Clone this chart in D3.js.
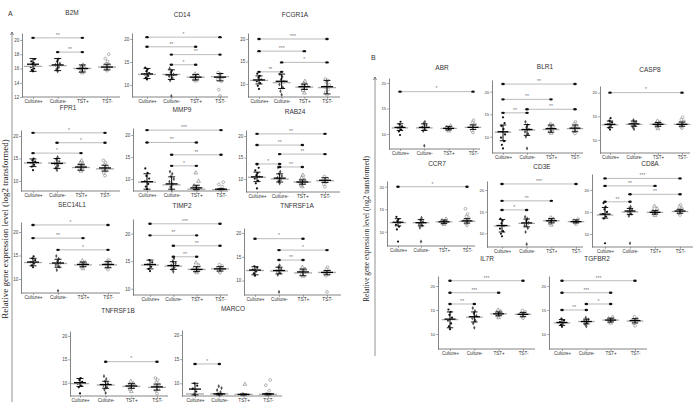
<!DOCTYPE html>
<html><head><meta charset="utf-8">
<script src="https://cdn.jsdelivr.net/npm/d3@7"></script>
<style>body{margin:0;background:#fff} svg{display:block}</style>
</head><body>
<svg id="c" width="700" height="406"></svg>
<script>
// ---------------- DATA ----------------
const groups = ["Culture+","Culture-","TST+","TST-"];
const genes = ["B2M","CD14","FCGR1A","FPR1","MMP9","RAB24","SEC14L1","TIMP2","TNFRSF1A","TNFRSF1B","MARCO",
               "ABR","BLR1","CASP8","CCR7","CD3E","CD8A","IL7R","TGFBR2"];
const yTicks = [[12,14,16,18,20],[10,15,20],[10,15,20],[10,15,20],[10,15,20],[10,15,20],[10,15,20],[10,15,20],[10,15,20],[10,15,20],[10,15,20],
                [10,15,20],[10,15,20],[10,15,20],[10,15,20],[10,15,20],[10,15,20],[10,15,20],[10,15,20]];
const means = [
 [16.6,16.5,16.0,16.2],[12.4,12.2,11.7,11.7],[10.9,10.6,9.4,9.4],[14.1,13.9,13.1,12.9],[9.4,8.9,8.0,7.7],
 [10.5,10.2,9.3,9.7],[13.6,13.4,13.1,13.1],[14.4,14.2,13.5,13.6],[12.2,12.1,11.8,11.7],[10.0,9.6,9.3,9.1],
 [8.8,7.8,7.7,7.8],[11.3,11.3,11.1,11.3],[11.1,11.6,11.8,11.9],[13.3,13.4,13.3,13.3],[12.1,12.0,12.2,12.4],
 [11.8,12.4,12.9,12.7],[14.5,15.2,14.9,15.2],[13.1,13.6,14.2,14.1],[12.4,12.6,12.9,12.8]];
const medians = [
 [16.3,16.4,16.0,16.2],[12.3,12.3,11.7,11.8],[10.8,10.3,9.3,9.2],[14.0,14.0,13.0,12.7],[9.3,8.7,7.7,7.6],
 [10.4,10.0,9.3,9.6],[13.5,13.3,13.0,13.0],[14.3,14.1,13.5,13.6],[12.1,12.0,11.6,11.7],[9.8,9.5,9.2,9.0],
 [7.8,7.8,7.7,7.7],[11.2,11.2,11.1,11.3],[11.0,11.5,11.6,11.8],[13.2,13.3,13.3,13.3],[12.0,12.0,12.2,12.3],
 [11.7,12.3,12.9,12.7],[14.3,15.0,14.9,15.1],[13.0,13.5,14.2,14.1],[12.3,12.6,12.9,12.7]];
const barLow = [
 [15.6,15.7,15.5,15.8],[11.4,11.2,11.1,10.9],[10.0,9.0,8.8,7.8],[13.2,12.8,12.4,12.2],[7.7,7.7,7.6,7.6],
 [9.4,9.3,8.8,9.2],[12.8,12.5,12.6,12.4],[13.6,13.5,13.1,13.2],[11.2,11.4,11.0,11.2],[9.2,8.8,8.8,8.4],
 [7.6,7.6,7.6,7.6],[10.7,10.7,10.8,10.9],[9.1,10.3,11.0,11.1],[12.6,12.9,12.9,12.9],[11.3,11.3,11.8,11.9],
 [10.3,11.5,12.4,12.4],[13.6,14.4,14.5,14.7],[11.3,12.5,13.8,13.6],[11.8,12.1,12.5,12.3]];
const barHigh = [
 [17.4,17.4,16.5,16.6],[13.6,13.3,12.3,12.5],[11.8,12.2,10.0,10.8],[14.9,15.0,13.7,13.5],[11.2,10.5,8.6,7.8],
 [11.6,11.2,9.8,10.3],[14.4,14.2,13.6,13.7],[15.2,14.9,14.0,14.0],[12.9,12.8,12.4,12.1],[10.9,10.3,9.8,9.7],
 [10.0,7.9,7.8,7.9],[12.0,12.0,11.5,11.8],[12.6,12.7,12.6,12.6],[14.0,14.0,13.7,13.8],[12.9,12.7,12.6,12.9],
 [13.2,13.3,13.4,13.1],[16.0,15.8,15.3,15.6],[14.6,14.6,14.6,14.5],[13.0,13.1,13.3,13.2]];
const points = [
 [[15.6,15.8,16.0,16.2,16.4,16.6,16.8,17.0,17.3],[15.6,15.9,16.2,16.5,16.7,17.0,17.3],[15.4,15.6,15.8,16.0,16.1,16.3,16.5],[15.7,15.9,16.1,16.3,16.5,16.7,17.0,17.4,18.0]],
 [[11.2,11.6,12.0,12.3,12.6,13.0,13.4,13.8],[7.6,11.0,11.5,11.9,12.3,12.7,13.1,13.6],[10.9,11.2,11.5,11.8,12.1,12.4],[7.6,9.0,10.8,11.2,11.6,12.0,12.4,12.7]],
 [[8.9,9.6,10.2,10.6,11.0,11.4,11.8,12.3],[7.6,8.4,9.2,9.9,10.5,11.0,11.6,12.2],[8.0,8.6,9.0,9.4,9.7,10.1,10.6],[7.6,8.2,8.8,9.3,9.8,10.4,10.8,11.1]],
 [[12.4,13.2,13.6,14.0,14.3,14.6,15.0],[12.4,12.9,13.4,13.9,14.3,14.8,15.3],[12.2,12.6,13.0,13.3,13.7,14.1,14.5],[11.2,11.8,12.3,12.7,13.1,13.6,14.1,14.6]],
 [[7.7,8.3,8.9,9.5,10.1,10.7,11.4,12.4],[7.6,8.2,8.8,9.4,10.0,10.6,11.2,11.7],[7.6,7.8,8.1,8.5,9.5,11.4],[7.6,7.7,8.3,8.8,9.3]],
 [[7.8,9.0,9.6,10.1,10.5,10.9,11.4,12.0,12.6,13.4],[9.0,9.5,9.9,10.3,10.7,11.2,11.7,12.7],[8.2,8.6,9.0,9.4,9.8,10.3,10.9],[8.2,8.8,9.3,9.7,10.1,10.6]],
 [[12.5,12.9,13.3,13.6,14.0,14.4,14.8],[7.5,11.9,12.6,13.0,13.4,13.8,14.3,14.9],[12.2,12.6,12.9,13.2,13.5,13.9],[12.0,12.4,12.8,13.1,13.4,13.8,14.1]],
 [[13.2,13.6,14.0,14.4,14.8,15.2],[13.1,13.5,13.9,14.2,14.6,15.0,15.5],[12.9,13.2,13.5,13.8,14.2,14.7],[12.9,13.2,13.5,13.8,14.1,14.4]],
 [[11.0,11.5,11.9,12.3,12.7,13.0],[7.6,11.2,11.6,12.0,12.4,12.8,13.2],[10.9,11.3,11.7,12.0,12.4,12.8],[7.6,11.0,11.4,11.7,12.0,12.4,12.8]],
 [[7.7,9.0,9.4,9.8,10.2,10.6,11.0],[7.8,8.5,9.0,9.4,9.8,10.3,10.8,11.4],[8.1,8.6,9.0,9.4,9.8,10.3],[7.7,8.3,8.8,9.2,9.6,10.1,10.6,11.0]],
 [[7.6,7.8,8.3,8.9,9.5,10.0],[7.6,7.8,8.2,8.6,9.0,9.4],[7.6,7.7,9.8],[7.6,7.8,8.5,9.6,10.7]],
 [[9.8,10.5,10.9,11.2,11.5,11.9,12.4],[7.7,10.6,11.0,11.3,11.7,12.1,12.4],[10.6,10.9,11.1,11.3,11.6],[10.3,10.7,11.1,11.5,11.9,12.3,12.7]],
 [[7.4,8.2,9.0,9.8,10.5,11.1,11.7,12.4,13.0,14.3],[7.4,10.0,10.6,11.1,11.6,12.1,12.6,13.3],[10.8,11.2,11.6,12.0,12.4,12.8],[10.7,11.2,11.6,12.0,12.4,12.9,13.3]],
 [[12.2,12.6,13.0,13.3,13.7,14.1,14.6],[12.3,12.7,13.1,13.4,13.8,14.2],[12.4,12.8,13.1,13.4,13.7,14.0],[12.5,12.8,13.2,13.5,13.9,14.3,14.8]],
 [[7.8,10.5,11.1,11.6,12.0,12.4,12.8,13.3],[7.8,10.9,11.4,11.8,12.2,12.6,13.1],[11.6,11.9,12.2,12.5,12.8],[11.4,11.8,12.2,12.6,13.0,13.4,13.9,15.1]],
 [[9.3,9.9,10.5,11.1,11.7,12.3,12.9,13.4],[7.5,10.3,11.2,11.8,12.4,12.9,13.4,13.8],[11.9,12.3,12.7,13.0,13.3,13.6],[12.1,12.4,12.7,13.0,13.3]],
 [[7.9,13.5,14.0,14.5,15.0,15.6,16.2,17.0],[7.9,14.1,14.6,15.0,15.4,15.8,16.2],[14.2,14.6,15.0,15.3,15.7,16.3],[14.3,14.7,15.1,15.4,15.8,16.2,16.6]],
 [[11.0,11.6,12.2,12.8,13.4,14.0,14.6,15.1],[11.3,12.2,12.8,13.3,13.8,14.3,14.8,15.4],[13.4,13.8,14.1,14.4,14.7,15.0],[13.3,13.7,14.0,14.3,14.6,14.9]],
 [[11.5,11.9,12.2,12.5,12.8,13.2],[11.6,12.0,12.4,12.7,13.0,13.4],[12.3,12.6,12.9,13.2,13.5],[11.7,12.2,12.6,12.9,13.2,13.6]]];
const brackets = [
 [[0,2,20.3,"**"],[1,2,18.3,"**"]],
 [[0,3,20.4,"*"],[0,2,18.3,"**"],[1,3,16.6,"**"],[1,2,14.4,"*"]],
 [[0,3,20.0,"***"],[0,2,17.3,"***"],[1,3,14.8,"*"],[0,1,12.7,"**"]],
 [[0,3,20.7,"*"],[1,3,18.5,"*"],[0,2,16.2,"*"]],
 [[0,3,21.1,"***"],[0,2,18.3,"**"],[1,3,15.5,"**"],[1,2,13.0,"*"]],
 [[0,3,20.5,"**"],[0,2,17.9,"**"],[1,3,15.8,"**"],[0,1,13.5,"*"],[1,2,12.8,"**"]],
 [[0,3,21.5,"*"],[0,2,18.7,"**"],[1,3,16.2,"*"]],
 [[0,3,21.8,"***"],[0,2,19.7,"**"],[1,3,17.8,"**"],[1,2,15.8,"**"]],
 [[0,2,18.8,"*"],[1,3,16.4,"*"],[1,2,14.3,"**"]],
 [[1,3,14.5,"*"]],
 [[0,1,14.0,"*"]],
 [[0,3,18.3,"*"]],
 [[0,3,21.7,"**"],[0,2,18.3,"**"],[1,3,16.1,"**"],[0,1,15.3,"**"]],
 [[0,3,20.0,"*"]],
 [[0,3,20.0,"*"]],
 [[0,3,21.4,"***"],[0,2,17.5,"**"],[0,1,15.4,"*"]],
 [[0,3,22.6,"***"],[0,2,20.9,"**"],[1,3,19.0,"**"],[0,1,17.3,"**"]],
 [[0,3,21.1,"***"],[0,2,18.6,"***"],[0,1,16.25,"**"]],
 [[0,3,21.1,"***"],[0,2,18.6,"***"],[1,2,16.25,"*"],[0,1,15.0,"**"]]];
const yLabel = "Relative gene expression level (log2 transformed)";

// ---------------- LAYOUT ----------------
const layout = [
 {t:[72,13],  x:[22,120],  c:[33,107],  y:[97,33],   d:[12,20.98], b:0},
 {t:[182,15], x:[132,228], c:[147,220], y:[97,33],   d:[7.39,21.3], b:0},
 {t:[295,15], x:[248,340], c:[259,327], y:[97,33],   d:[7.11,21.33], b:0},
 {t:[68,108.5],x:[21,120], c:[33,105],  y:[191,130], d:[7.78,21.33], b:0},
 {t:[182,110],x:[133,228], c:[147,221], y:[191,128], d:[7.29,21.58], b:0},
 {t:[295,112],x:[246,340], c:[257,325], y:[192,130], d:[6.98,21.4], b:0},
 {t:[72,205], x:[21,120],  c:[33,108],  y:[293,222], d:[7.02,22.13], b:0},
 {t:[182,206],x:[133,228], c:[150,220], y:[295,219], d:[8.85,22.67], b:0},
 {t:[297,206],x:[244,341], c:[255,327], y:[295,228], d:[6.95,21.05], b:0},
 {t:[118,311],x:[70,168],  c:[80,157],  y:[396,331], d:[7.15,21.07], b:0},
 {t:[233,309],x:[182,282], c:[195,268], y:[396,330], d:[7.37,21.03], b:0},
 {t:[442,68], x:[389,480], c:[400,473], y:[149,78],  d:[7.06,20.98], b:1},
 {t:[545,67], x:[492,583], c:[503,575], y:[153,80],  d:[6.38,22.6], b:1},
 {t:[650,70], x:[600,690], c:[610,682], y:[153,86],  d:[7.25,21.4], b:1},
 {t:[437,164],x:[387,475], c:[398,467], y:[246,181], d:[6.82,21.27], b:1},
 {t:[542,167],x:[487,583], c:[502,576], y:[247,181], d:[6.84,22.08], b:1},
 {t:[650,164],x:[592,693], c:[605,680], y:[247,174], d:[7.05,23.6], b:1},
 {t:[487,259],x:[438,535], c:[450,523], y:[349,276], d:[6.88,22.08], b:1},
 {t:[597,259],x:[549,647], c:[562,635], y:[349,276], d:[6.88,22.08], b:1}];

const svg = d3.select("#c");
const SANS = "Liberation Sans, Arial, sans-serif";
const SERIF = "Liberation Serif, Times New Roman, serif";
const AX = "#666";

function figLine(x, y0, y1) {
  svg.append("line").attr("x1",x).attr("x2",x).attr("y1",y0).attr("y2",y1)
     .attr("stroke","#777").attr("stroke-width",0.8);
  svg.append("path").attr("d",`M${x-1.5},${y0+3}L${x},${y0}L${x+1.5},${y0+3}`)
     .attr("fill","none").attr("stroke","#555").attr("stroke-width",0.7);
}
figLine(12, 32, 402);
figLine(375, 77, 356);
svg.append("text").attr("x",8).attr("y",16).text("A").attr("font-family",SANS).attr("font-size",7).attr("fill","#333");
svg.append("text").attr("x",371).attr("y",60).text("B").attr("font-family",SANS).attr("font-size",7).attr("fill","#333");
svg.append("text").attr("transform","translate(8,229) rotate(-90)").attr("text-anchor","middle")
   .attr("font-family",SERIF).attr("font-size",9).attr("fill","#222").text(yLabel);
svg.append("text").attr("transform","translate(369,229) rotate(-90)").attr("text-anchor","middle")
   .attr("font-family",SERIF).attr("font-size",7.3).attr("fill","#222").text(yLabel);

const offs = [0,-1.2,1.2,-2.2,2.2,-0.6,0.6,-1.7,1.7,0];

genes.forEach((gene, i) => {
  const L = layout[i];
  const g = svg.append("g");
  const x = d3.scalePoint().domain(groups).range(L.c).padding(0);
  const y = d3.scaleLinear().domain(L.d).range(L.y);
  const s = L.b ? 0.92 : 1;

  g.append("text").attr("x",L.t[0]).attr("y",L.t[1]).attr("text-anchor","middle").attr("dominant-baseline","middle")
   .attr("font-family",SANS).attr("font-size",6.5).attr("fill","#333").text(gene);

  const ya = g.append("g").attr("transform",`translate(${L.x[0]},0)`)
    .call(d3.axisLeft(y).tickValues(yTicks[i]).tickSize(1.8).tickSizeOuter(0).tickPadding(1));
  ya.select(".domain").attr("stroke",AX).attr("stroke-width",0.8);
  ya.selectAll(".tick line").attr("stroke",AX).attr("stroke-width",0.6);
  ya.selectAll("text").attr("font-family",SANS).attr("font-size",L.b?4.2:4.5).attr("fill","#444");

  g.append("line").attr("x1",L.x[0]).attr("x2",L.x[1]).attr("y1",L.y[0]).attr("y2",L.y[0])
   .attr("stroke",AX).attr("stroke-width",0.8);
  const xa = g.append("g").attr("transform",`translate(0,${L.y[0]})`)
    .call(d3.axisBottom(x).tickSize(1.8).tickPadding(1));
  xa.select(".domain").remove();
  xa.selectAll(".tick line").attr("stroke",AX).attr("stroke-width",0.6);
  xa.selectAll("text").attr("font-family",SANS).attr("font-size",L.b?4.5:4.8).attr("fill","#333");

  groups.forEach((grp, k) => {
    const cx = x(grp);
    points[i][k].forEach((v, j) => {
      const px = cx + offs[j % offs.length] * s;
      const py = y(v);
      if (k === 0) {
        g.append("circle").attr("cx",px).attr("cy",py).attr("r",1.1).attr("fill","#111");
      } else if (k === 1) {
        g.append("path").attr("d",d3.symbol(d3.symbolDiamond,5)()).attr("transform",`translate(${px},${py})`).attr("fill","#555");
      } else if (k === 2) {
        g.append("path").attr("d",d3.symbol(d3.symbolTriangle,6)()).attr("transform",`translate(${px},${py})`)
         .attr("fill","none").attr("stroke","#777").attr("stroke-width",0.6);
      } else {
        g.append("circle").attr("cx",px).attr("cy",py).attr("r",1.4).attr("fill","none").attr("stroke","#888").attr("stroke-width",0.6);
      }
    });
  });

  groups.forEach((grp, k) => {
    const cx = x(grp);
    g.append("line").attr("x1",cx-9*s).attr("x2",cx+9*s).attr("y1",y(medians[i][k])).attr("y2",y(medians[i][k]))
     .attr("stroke","#aaa").attr("stroke-width",1.3);
    g.append("line").attr("x1",cx).attr("x2",cx).attr("y1",y(barLow[i][k])).attr("y2",y(barHigh[i][k]))
     .attr("stroke","#000").attr("stroke-width",1);
    [barLow[i][k], barHigh[i][k]].forEach(v => {
      g.append("line").attr("x1",cx-3.5*s).attr("x2",cx+3.5*s).attr("y1",y(v)).attr("y2",y(v))
       .attr("stroke","#000").attr("stroke-width",0.9);
    });
    g.append("line").attr("x1",cx-6*s).attr("x2",cx+6*s).attr("y1",y(means[i][k])).attr("y2",y(means[i][k]))
     .attr("stroke","#000").attr("stroke-width",1.3);
  });

  brackets[i].forEach(([a, b, v, lab]) => {
    const xa0 = x(groups[a]), xb0 = x(groups[b]), yy = y(v);
    g.append("line").attr("x1",xa0).attr("x2",xb0).attr("y1",yy).attr("y2",yy)
     .attr("stroke","#aaa").attr("stroke-width",0.8);
    [xa0, xb0].forEach(xx => g.append("ellipse").attr("cx",xx).attr("cy",yy).attr("rx",1.8).attr("ry",1.2).attr("fill","#111"));
    g.append("text").attr("x",(xa0+xb0)/2).attr("y",yy-1.2).attr("text-anchor","middle")
     .attr("font-family",SANS).attr("font-size",5).attr("fill","#777").text(lab);
  });
});
</script>
</body></html>
